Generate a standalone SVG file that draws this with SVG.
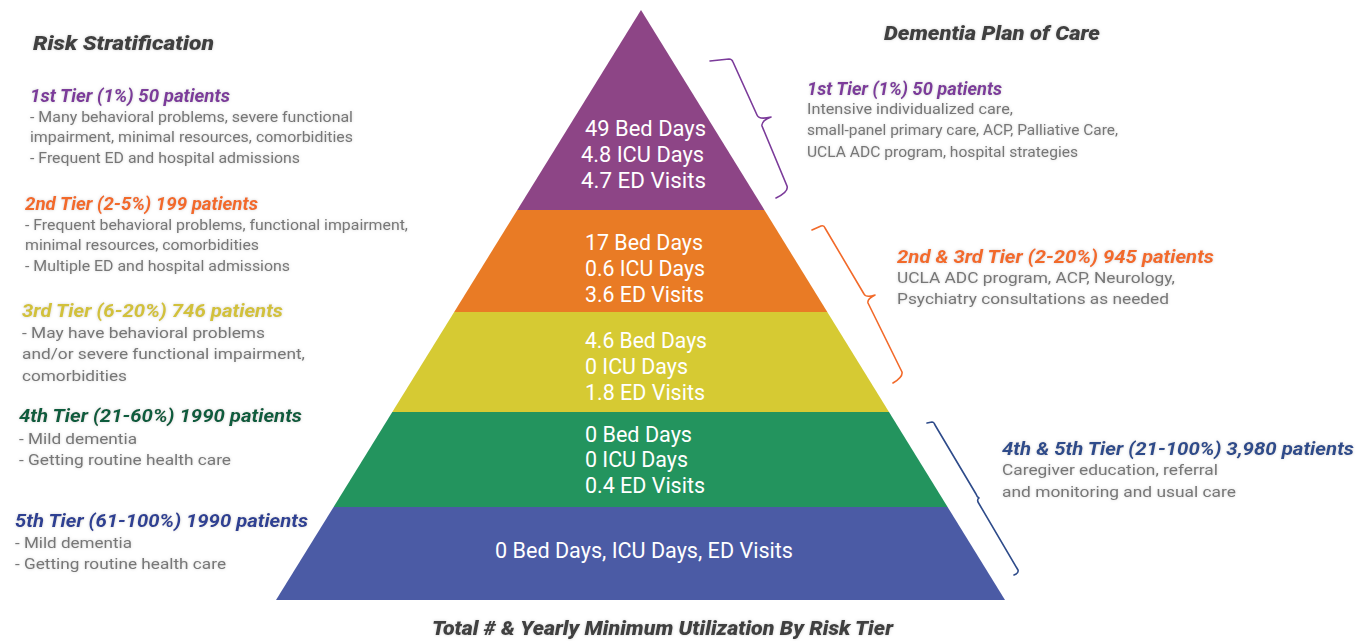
<svg xmlns="http://www.w3.org/2000/svg" width="1371" height="641" viewBox="0 0 1371 641">
  <defs>
    <filter id="soft" x="-5%" y="-30%" width="110%" height="160%">
      <feGaussianBlur in="SourceAlpha" stdDeviation="1.6" result="b"/>
      <feFlood flood-color="#9a9a9a" flood-opacity="0.45"/>
      <feComposite operator="in" in2="b"/>
      <feMerge><feMergeNode/><feMergeNode in="SourceGraphic"/></feMerge>
    </filter>
    <style>
      text{font-family:Roboto,"Liberation Sans",sans-serif;}
      .title{font-weight:900;font-style:italic;font-size:20px;fill:#3f3f3f;}
      .hd{font-weight:bold;font-style:italic;font-size:18.5px;}
      .body{font-size:15.5px;fill:#777;}
      .rbody{font-size:15px;fill:#777;}
      .pt{font-size:21.5px;fill:#fff;}
      .brace{fill:none;stroke-width:1.6;stroke-linejoin:round;stroke-linecap:round;}
      .c1{fill:#7b3b9a;} .c2{fill:#f26a2a;} .c3{fill:#d2c13a;} .c4{fill:#0f5b3d;} .c5{fill:#2d3f92;} .c45{fill:#2e4b8a;}
    </style>
  </defs>
  <rect width="1371" height="641" fill="#fff"/>

  <!-- Pyramid tiers -->
  <g id="tier1">
    <polygon points="641,10 764.4,210 517.3,210" fill="#8d4586"/>
    <text class="pt" x="585" y="136" textLength="121" lengthAdjust="spacingAndGlyphs">49 Bed Days</text>
    <text class="pt" x="581" y="162" textLength="123" lengthAdjust="spacingAndGlyphs">4.8 ICU Days</text>
    <text class="pt" x="581" y="188" textLength="125" lengthAdjust="spacingAndGlyphs">4.7 ED Visits</text>
  </g>
  <g id="tier2">
    <polygon points="517.3,210 764.4,210 827.3,312 454.2,312" fill="#e97b25"/>
    <text class="pt" x="585" y="250" textLength="118" lengthAdjust="spacingAndGlyphs">17 Bed Days</text>
    <text class="pt" x="585" y="276" textLength="120" lengthAdjust="spacingAndGlyphs">0.6 ICU Days</text>
    <text class="pt" x="585" y="302" textLength="119" lengthAdjust="spacingAndGlyphs">3.6 ED Visits</text>
  </g>
  <g id="tier3">
    <polygon points="454.2,312 827.3,312 889,412 392.3,412" fill="#d6ca33"/>
    <text class="pt" x="585" y="348" textLength="122" lengthAdjust="spacingAndGlyphs">4.6 Bed Days</text>
    <text class="pt" x="585" y="374" textLength="103" lengthAdjust="spacingAndGlyphs">0 ICU Days</text>
    <text class="pt" x="585" y="400" textLength="120" lengthAdjust="spacingAndGlyphs">1.8 ED Visits</text>
  </g>
  <g id="tier4">
    <polygon points="392.3,412 889,412 947.6,507 333.6,507" fill="#23945e"/>
    <text class="pt" x="585" y="442" textLength="107" lengthAdjust="spacingAndGlyphs">0 Bed Days</text>
    <text class="pt" x="585" y="467" textLength="103" lengthAdjust="spacingAndGlyphs">0 ICU Days</text>
    <text class="pt" x="585" y="493" textLength="120" lengthAdjust="spacingAndGlyphs">0.4 ED Visits</text>
  </g>
  <g id="tier5">
    <polygon points="333.6,507 947.6,507 1005,600 276,600" fill="#4b5ba5"/>
    <text class="pt" x="495" y="558" textLength="298" lengthAdjust="spacingAndGlyphs">0 Bed Days, ICU Days, ED Visits</text>
  </g>

  <!-- Titles -->
  <g id="title-left" filter="url(#soft)">
    <text class="title" x="33" y="50" textLength="181" lengthAdjust="spacingAndGlyphs">Risk Stratification</text>
  </g>
  <g id="title-right" filter="url(#soft)">
    <text class="title" x="884" y="40" textLength="216" lengthAdjust="spacingAndGlyphs">Dementia Plan of Care</text>
  </g>
  <g id="title-bottom" filter="url(#soft)">
    <text class="title" x="432" y="635" textLength="461" lengthAdjust="spacingAndGlyphs">Total # &amp; Yearly Minimum Utilization By Risk Tier</text>
  </g>

  <!-- Left: risk stratification -->
  <g id="risk1" filter="url(#soft)">
    <text class="hd c1" x="30" y="102" textLength="200" lengthAdjust="spacingAndGlyphs">1st Tier (1%) 50 patients</text>
    <text class="body" x="30" y="122" textLength="323" lengthAdjust="spacingAndGlyphs">- Many behavioral problems, severe functional</text>
    <text class="body" x="30" y="142" textLength="323" lengthAdjust="spacingAndGlyphs">impairment, minimal resources, comorbidities</text>
    <text class="body" x="30" y="163" textLength="270" lengthAdjust="spacingAndGlyphs">- Frequent ED and hospital admissions</text>
  </g>
  <g id="risk2" filter="url(#soft)">
    <text class="hd c2" x="25" y="210" textLength="233" lengthAdjust="spacingAndGlyphs">2nd Tier (2-5%) 199 patients</text>
    <text class="body" x="25" y="230" textLength="383" lengthAdjust="spacingAndGlyphs">- Frequent behavioral problems, functional impairment,</text>
    <text class="body" x="25" y="250" textLength="234" lengthAdjust="spacingAndGlyphs">minimal resources, comorbidities</text>
    <text class="body" x="25" y="271" textLength="265" lengthAdjust="spacingAndGlyphs">- Multiple ED and hospital admissions</text>
  </g>
  <g id="risk3" filter="url(#soft)">
    <text class="hd c3" x="22" y="317" textLength="261" lengthAdjust="spacingAndGlyphs">3rd Tier (6-20%) 746 patients</text>
    <text class="body" x="22" y="338" textLength="243" lengthAdjust="spacingAndGlyphs">- May have behavioral problems</text>
    <text class="body" x="22" y="359" textLength="283" lengthAdjust="spacingAndGlyphs">and/or severe functional impairment,</text>
    <text class="body" x="22" y="381" textLength="105" lengthAdjust="spacingAndGlyphs">comorbidities</text>
  </g>
  <g id="risk4" filter="url(#soft)">
    <text class="hd c4" x="19" y="422" textLength="283" lengthAdjust="spacingAndGlyphs">4th Tier (21-60%) 1990 patients</text>
    <text class="body" x="19" y="444" textLength="118" lengthAdjust="spacingAndGlyphs">- Mild dementia</text>
    <text class="body" x="19" y="465" textLength="212" lengthAdjust="spacingAndGlyphs">- Getting routine health care</text>
  </g>
  <g id="risk5" filter="url(#soft)">
    <text class="hd c5" x="15" y="527" textLength="293" lengthAdjust="spacingAndGlyphs">5th Tier (61-100%) 1990 patients</text>
    <text class="body" x="15" y="548" textLength="117" lengthAdjust="spacingAndGlyphs">- Mild dementia</text>
    <text class="body" x="15" y="569" textLength="211" lengthAdjust="spacingAndGlyphs">- Getting routine health care</text>
  </g>

  <!-- Right: plan of care -->
  <g id="plan1" filter="url(#soft)">
    <text class="hd c1" x="807" y="95" textLength="195" lengthAdjust="spacingAndGlyphs">1st Tier (1%) 50 patients</text>
    <text class="rbody" x="807" y="114" textLength="206" lengthAdjust="spacingAndGlyphs">Intensive individualized care,</text>
    <text class="rbody" x="807" y="135" textLength="311" lengthAdjust="spacingAndGlyphs">small-panel primary care, ACP, Palliative Care,</text>
    <text class="rbody" x="807" y="157" textLength="271" lengthAdjust="spacingAndGlyphs">UCLA ADC program, hospital strategies</text>
  </g>
  <g id="plan23" filter="url(#soft)">
    <text class="hd c2" x="897" y="263" textLength="317" lengthAdjust="spacingAndGlyphs">2nd &amp; 3rd Tier (2-20%) 945 patients</text>
    <text class="rbody" x="897" y="283" textLength="278" lengthAdjust="spacingAndGlyphs">UCLA ADC program, ACP, Neurology,</text>
    <text class="rbody" x="897" y="304" textLength="272" lengthAdjust="spacingAndGlyphs">Psychiatry consultations as needed</text>
  </g>
  <g id="plan45" filter="url(#soft)">
    <text class="hd c45" x="1002" y="455" textLength="352" lengthAdjust="spacingAndGlyphs">4th &amp; 5th Tier (21-100%) 3,980 patients</text>
    <text class="rbody" x="1002" y="475" textLength="216" lengthAdjust="spacingAndGlyphs">Caregiver education, referral</text>
    <text class="rbody" x="1002" y="497" textLength="234" lengthAdjust="spacingAndGlyphs">and monitoring and usual care</text>
  </g>

  <!-- Connectors: braces -->
  <g id="connectors">
    <path class="brace" stroke="#7b3b9a" d="M710,61 L729,59 Q732,59 733,62 L757,115 Q759,120 771,117 M771,117 Q761,121 762,126 L787,186 Q789,192 776,198"/>
    <path class="brace" stroke="#f26a2a" d="M812,230 L821,226 Q824,225 825,228 L864,294 Q866,298 875,295 M875,295 Q867,299 868,303 L902,372 Q903,377 893,383"/>
    <path class="brace" stroke="#2e4b8a" d="M927,423 L932,422 Q934,422 935,425 L976,494 Q977,497 979,498 M979,498 Q977,499 978,502 L1018,570 Q1019,573 1014,575"/>
  </g>
</svg>
